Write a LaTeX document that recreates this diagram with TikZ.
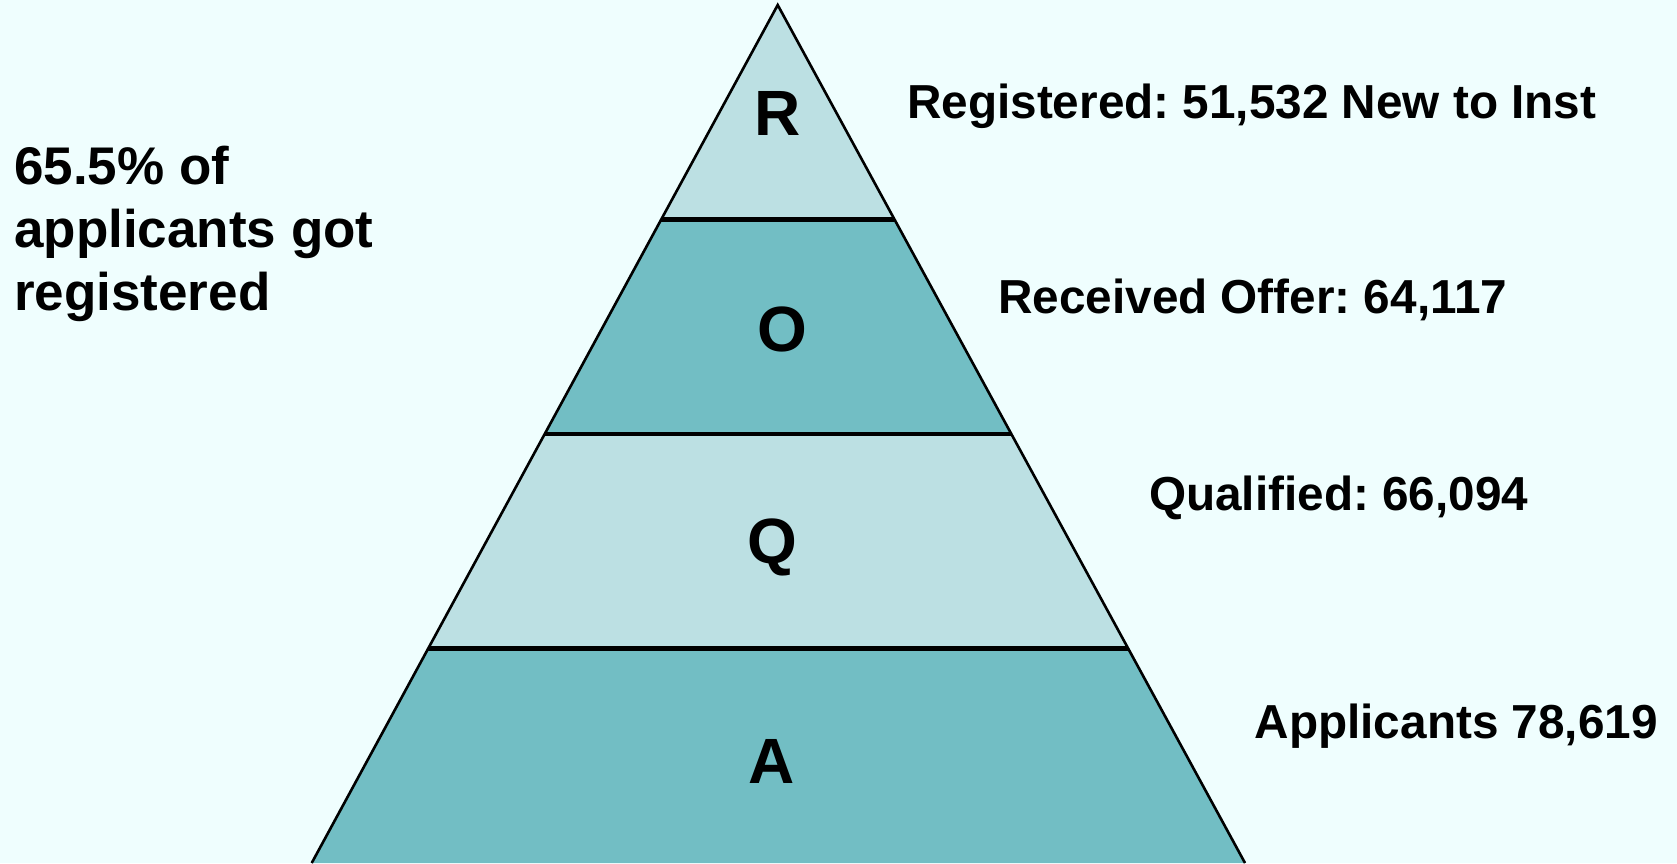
\documentclass[tikz,border=0pt]{standalone}
\usepackage{fontspec}
\setmainfont{Liberation Sans}
\usetikzlibrary{calc}
\frenchspacing
\definecolor{bgc}{RGB}{239,254,254}
\definecolor{lightlayer}{RGB}{188,224,227}
\definecolor{darklayer}{RGB}{114,190,196}
\tikzset{
  edge/.style={line width=2.6pt, line join=miter},
  sep/.style={line width=4.8pt},
  letter/.style={font=\fontsize{64}{70}\selectfont\bfseries, inner sep=0pt},
  label/.style={font=\fontsize{47.7}{56}\selectfont\bfseries, inner sep=0pt, anchor=base west},
  note/.style={font=\fontsize{53}{63}\selectfont\bfseries, inner sep=0pt, anchor=north west, align=left},
}
\begin{document}
\begin{tikzpicture}[x=1pt,y=-1pt]
\frenchspacing
\useasboundingbox (0,0) rectangle (1677,863);
\fill[bgc] (0,0) rectangle (1677,863);
\begin{scope}
\clip (0,0) rectangle (1677,863);
\coordinate (apex) at (777.7,5);
\coordinate (bl) at (311.7,863);
\coordinate (br) at (1245,863);
\coordinate (l1) at ($(apex)!0.25!(bl)$);
\coordinate (r1) at ($(apex)!0.25!(br)$);
\coordinate (l2) at ($(apex)!0.5!(bl)$);
\coordinate (r2) at ($(apex)!0.5!(br)$);
\coordinate (l3) at ($(apex)!0.75!(bl)$);
\coordinate (r3) at ($(apex)!0.75!(br)$);
\fill[lightlayer] (apex) -- (r1) -- (l1) -- cycle;
\fill[darklayer] (l1) -- (r1) -- (r2) -- (l2) -- cycle;
\fill[lightlayer] (l2) -- (r2) -- (r3) -- (l3) -- cycle;
\fill[darklayer] (l3) -- (r3) -- (br) -- (bl) -- cycle;
\draw[sep] (l1) -- (r1);
\draw[sep] (l2) -- (r2);
\draw[sep] (l3) -- (r3);
\draw[edge] (bl) -- (apex) -- (br);
\end{scope}
\node[letter] (R) at (777.5,113) {R};
\node[letter] (O) at (782,329.5) {O};
\node[letter] (Q) at (772,547.5) {Q};
\node[letter] (A) at (772,761.5) {A};
\node[label] (reg) at (907,118) {Registered: 51,532 New to Inst};
\node[label] (off) at (998,313) {Received Offer: 64,117};
\node[label] (qual) at (1149,510) {Qualified: 66,094};
\node[label] (app) at (1254.5,738) {Applicants 78,619};
\node[note] (pct) at (14,145.5) {65.5\% of\\applicants got\\registered};
\end{tikzpicture}
\end{document}
